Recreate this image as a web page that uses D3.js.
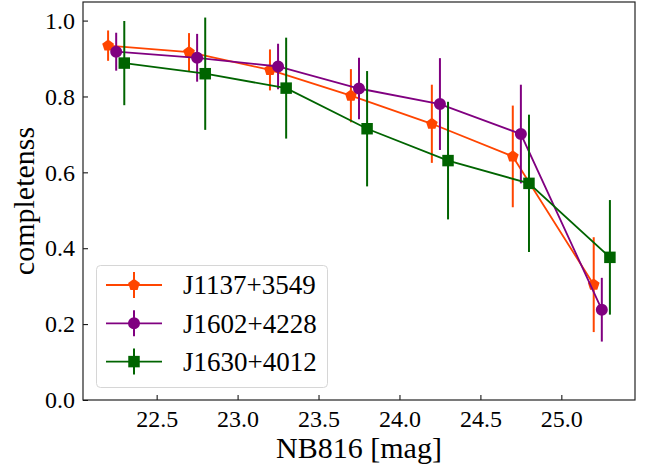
<!DOCTYPE html>
<html>
<head>
<meta charset="utf-8">
<script src="https://cdn.jsdelivr.net/npm/d3@7"></script>
<style>
  html, body { margin: 0; padding: 0; background: #fff; }
  svg { display: block; }
  svg text { font-family: 'Liberation Serif', 'Times New Roman', serif !important; fill: #000; }
</style>
</head>
<body>
<svg id="chart" width="652" height="468"></svg>
<script>
// NB816 magnitude bins for each field (slightly offset so error bars don't overlap)
const magJ1137 = [22.2, 22.7, 23.2, 23.7, 24.2, 24.7, 25.2];
const magJ1602 = [22.25, 22.75, 23.25, 23.75, 24.25, 24.75, 25.25];
const magJ1630 = [22.3, 22.8, 23.3, 23.8, 24.3, 24.8, 25.3];

// Completeness and its 1-sigma uncertainty per bin
const compJ1137 = [0.934, 0.917, 0.870, 0.802, 0.728, 0.642, 0.304];
const errJ1137  = [0.040, 0.050, 0.054, 0.070, 0.103, 0.134, 0.125];
const compJ1602 = [0.918, 0.902, 0.879, 0.821, 0.780, 0.701, 0.238];
const errJ1602  = [0.050, 0.063, 0.060, 0.081, 0.121, 0.130, 0.084];
const compJ1630 = [0.888, 0.860, 0.822, 0.715, 0.631, 0.571, 0.376];
const errJ1630  = [0.111, 0.148, 0.133, 0.152, 0.155, 0.181, 0.151];

const fieldNames = ["J1137+3549", "J1602+4228", "J1630+4012"];
const xTicks = [22.5, 23.0, 23.5, 24.0, 24.5, 25.0];
const yTicks = [0.0, 0.2, 0.4, 0.6, 0.8, 1.0];

const SERIF = "'Liberation Serif', 'Times New Roman', serif";

// Regular pentagon pointing up; size is the squared circumradius
const symbolPentagon = {
  draw(context, size) {
    const r = Math.sqrt(size);
    for (let i = 0; i < 5; i++) {
      const a = -Math.PI / 2 + i * 2 * Math.PI / 5;
      const px = r * Math.cos(a), py = r * Math.sin(a);
      if (i === 0) context.moveTo(px, py); else context.lineTo(px, py);
    }
    context.closePath();
  }
};

const series = [
  { name: fieldNames[0], x: magJ1137, y: compJ1137, e: errJ1137, color: "#ff4500",
    symbol: symbolPentagon, size: 38 },
  { name: fieldNames[1], x: magJ1602, y: compJ1602, e: errJ1602, color: "#800080",
    symbol: d3.symbolCircle, size: 113 },
  { name: fieldNames[2], x: magJ1630, y: compJ1630, e: errJ1630, color: "#006400",
    symbol: d3.symbolSquare, size: 132 }
];

const svg = d3.select("#chart");
const plotL = 83, plotR = 635, plotT = 2, plotB = 400;

const x = d3.scaleLinear().domain([22.045, 25.455]).range([plotL, plotR]);
const y = d3.scaleLinear().domain([0, 1.049]).range([plotB, plotT]);

// Axes with inward ticks
const xAxis = d3.axisBottom(x).tickValues(xTicks).tickFormat(d3.format(".1f"))
  .tickSizeInner(-5).tickSizeOuter(0).tickPadding(9);
const yAxis = d3.axisLeft(y).tickValues(yTicks).tickFormat(d3.format(".1f"))
  .tickSizeInner(-5).tickSizeOuter(0).tickPadding(8);

const gx = svg.append("g").attr("transform", `translate(0,${plotB})`).call(xAxis);
const gy = svg.append("g").attr("transform", `translate(${plotL},0)`).call(yAxis);
[gx, gy].forEach(g => {
  g.attr("font-family", SERIF).attr("font-size", 24);
  g.select(".domain").remove();
  g.selectAll(".tick line").attr("stroke", "#000").attr("stroke-width", 1);
  g.selectAll(".tick text").attr("fill", "#000");
});
gx.selectAll(".tick text").attr("dy", "0.75em");

// Plot frame
svg.append("rect")
  .attr("x", plotL).attr("y", plotT)
  .attr("width", plotR - plotL).attr("height", plotB - plotT)
  .attr("fill", "none").attr("stroke", "#222").attr("stroke-width", 1.2);

// Axis titles
svg.append("text")
  .attr("x", (plotL + plotR) / 2).attr("y", 458)
  .attr("text-anchor", "middle").attr("font-family", SERIF).attr("font-size", 30)
  .text("NB816 [mag]");
svg.append("text")
  .attr("transform", `translate(34,${(plotT + plotB) / 2}) rotate(-90)`)
  .attr("text-anchor", "middle").attr("font-family", SERIF).attr("font-size", 30)
  .text("completenss");

// Series: connecting line, error bars, markers
const plot = svg.append("g");
series.forEach(s => {
  const pts = s.x.map((xv, i) => ({ x: xv, y: s.y[i], e: s.e[i] }));
  const g = plot.append("g");
  g.append("path")
    .datum(pts)
    .attr("fill", "none").attr("stroke", s.color).attr("stroke-width", 1.8)
    .attr("d", d3.line().x(d => x(d.x)).y(d => y(d.y)));
  g.selectAll("line.err").data(pts).join("line")
    .attr("class", "err")
    .attr("x1", d => x(d.x)).attr("x2", d => x(d.x))
    .attr("y1", d => y(d.y - d.e)).attr("y2", d => y(d.y + d.e))
    .attr("stroke", s.color).attr("stroke-width", 2);
  g.selectAll("path.mk").data(pts).join("path")
    .attr("class", "mk")
    .attr("transform", d => `translate(${x(d.x)},${y(d.y)})`)
    .attr("d", d3.symbol().type(s.symbol).size(s.size))
    .attr("fill", s.color);
});

// Legend
const lg = svg.append("g");
lg.append("rect")
  .attr("x", 96.5).attr("y", 265.5).attr("width", 231).attr("height", 122)
  .attr("rx", 4).attr("fill", "#fff").attr("fill-opacity", 0.8)
  .attr("stroke", "#d6d6d6").attr("stroke-width", 1);
series.forEach((s, i) => {
  const cy = 285 + i * 38.3;
  const row = lg.append("g").attr("transform", `translate(0,${cy})`);
  row.append("line").attr("x1", 106).attr("x2", 162).attr("y1", 0).attr("y2", 0)
    .attr("stroke", s.color).attr("stroke-width", 1.8);
  row.append("line").attr("x1", 134).attr("x2", 134).attr("y1", -13).attr("y2", 13)
    .attr("stroke", s.color).attr("stroke-width", 2);
  row.append("path").attr("transform", "translate(134,0)")
    .attr("d", d3.symbol().type(s.symbol).size(s.size)).attr("fill", s.color);
  row.append("text").attr("x", 183).attr("y", 0).attr("dy", "0.35em")
    .attr("font-family", SERIF).attr("font-size", 27).text(s.name);
});
</script>
</body>
</html>
